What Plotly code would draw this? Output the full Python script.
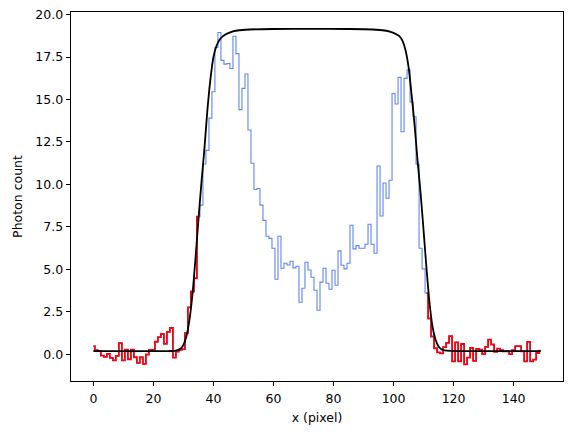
import plotly.graph_objects as go

# pixel positions (0..149) and photon counts
pixels = list(range(150))
counts = [
    0.47, 0.23, 0.18, -0.08, -0.16, 0.02, -0.22, -0.37, -0.1, 0.65,
    -0.37, 0.27, -0.3, 0.27, -0.18, -0.51, -0.18, -0.57, -0.02, 0.25,
    0.25, 0.73, 1.0, 1.19, 0.61, 1.31, 1.55, -0.2, 0.15, 0.25,
    0.3, 1.24, 2.76, 3.69, 4.47, 8.1, 8.78, 11.2, 12.0, 13.9,
    15.45, 18.06, 18.94, 17.3, 17.08, 17.12, 16.82, 18.72, 17.7, 14.4,
    15.65, 16.5, 13.2, 11.24, 9.7, 9.76, 8.78, 7.88, 6.94, 6.82,
    6.24, 4.41, 6.94, 5.06, 5.35, 5.25, 5.47, 5.08, 5.18, 3.06,
    3.88, 5.41, 4.96, 4.53, 3.76, 2.59, 4.24, 5.06, 4.18, 3.82,
    4.94, 4.06, 6.08, 5.24, 5.02, 5.35, 7.59, 6.2, 6.39, 6.24,
    6.24, 6.47, 7.65, 6.47, 5.94, 11.08, 8.14, 10.08, 9.18, 10.24,
    15.35, 14.73, 16.3, 13.1, 16.24, 16.75, 14.86, 13.98, 11.18, 6.24,
    5.02, 3.6, 2.1, 1.04, 0.35, 0.1, 0.05, 0.41, 0.66, 1.06,
    -0.42, 0.7, -0.42, 0.6, -0.6, -0.2, 0.37, -0.4, 0.31, 0.27,
    0.0, 0.43, 0.86, 0.57, 0.14, 0.33, 0.23, 0.17, 0.17, 0.0,
    0.23, 0.47, 0.47, 0.17, -0.42, 0.72, -0.42, -0.32, 0.07, 0.2,
]
# pixels outside the fitted region (drawn in red)
mask_left_end = 35
mask_right_start = 111

# model curve
model_x = [0, 10, 20, 25, 27, 28, 29, 30, 31, 32, 33, 34, 35, 36, 37, 38, 39, 40, 41, 42,
           43, 44, 46, 48, 52, 60, 72, 85, 93, 97, 99, 101, 102, 103, 104, 105, 106, 107, 108, 109,
           110, 111, 112, 113, 114, 115, 116, 117, 119, 125, 140, 149]
model_y = [0.18, 0.18, 0.18, 0.185, 0.2, 0.24, 0.32, 0.55, 1.05, 2.0, 3.5, 5.6, 7.9, 10.1, 12.1, 14.4, 16.2, 17.5, 18.15, 18.5,
           18.7, 18.83, 18.98, 19.06, 19.12, 19.15, 19.16, 19.15, 19.12, 19.06, 18.98, 18.83, 18.72, 18.45, 17.9, 16.9, 15.3, 13.5, 11.4, 9.5,
           7.3, 5.0, 3.0, 1.6, 0.85, 0.45, 0.28, 0.22, 0.19, 0.18, 0.18, 0.18]

x_ticks = [0, 20, 40, 60, 80, 100, 120, 140]
y_ticks = [0.0, 2.5, 5.0, 7.5, 10.0, 12.5, 15.0, 17.5, 20.0]

red_x = pixels[:mask_left_end + 1] + [None] + pixels[mask_right_start:]
red_y = counts[:mask_left_end + 1] + [None] + counts[mask_right_start:]

fig = go.Figure()
fig.add_trace(go.Scatter(x=pixels, y=counts, mode="lines",
                         line=dict(color="#5f86ea", width=1.1, shape="hvh"),
                         showlegend=False, hoverinfo="skip"))
fig.add_trace(go.Scatter(x=red_x, y=red_y, mode="lines", connectgaps=False,
                         line=dict(color="#ff0000", width=1.8, shape="hvh"),
                         showlegend=False, hoverinfo="skip"))
fig.add_trace(go.Scatter(x=red_x, y=red_y, mode="lines", connectgaps=False,
                         line=dict(color="rgba(90,80,230,0.22)", width=0.6, shape="hvh"),
                         showlegend=False, hoverinfo="skip"))
fig.add_trace(go.Scatter(x=model_x, y=model_y, mode="lines",
                         line=dict(color="black", width=1.8, shape="spline", smoothing=0.8),
                         showlegend=False, hoverinfo="skip"))

font = dict(family="DejaVu Sans", size=12.5, color="black")
fig.update_layout(
    width=576, height=435,
    margin=dict(l=71, r=13, t=12, b=54),
    paper_bgcolor="white", plot_bgcolor="white",
    font=font,
)
fig.update_xaxes(range=[-7.45, 156.45], tickvals=x_ticks, ticks="outside", ticklen=4.4,
                 tickwidth=1, tickcolor="black", showline=True, linecolor="black", linewidth=1,
                 mirror=True, showgrid=False, zeroline=False, automargin=False,
                 ticklabelstandoff=2,
                 title=dict(text="x (pixel)", font=font, standoff=7))
fig.update_yaxes(range=[-1.58, 20.15], tickvals=y_ticks, tickformat=".1f", ticks="outside",
                 ticklen=4.4, tickwidth=1, tickcolor="black", showline=True, linecolor="black",
                 linewidth=1, mirror=True, showgrid=False, zeroline=False, automargin=False,
                 title=dict(text="Photon count", font=font, standoff=9))

fig.write_html("out.html", config={"displayModeBar": False},
               post_script="document.body.style.margin='0';document.body.style.overflow='hidden';")
